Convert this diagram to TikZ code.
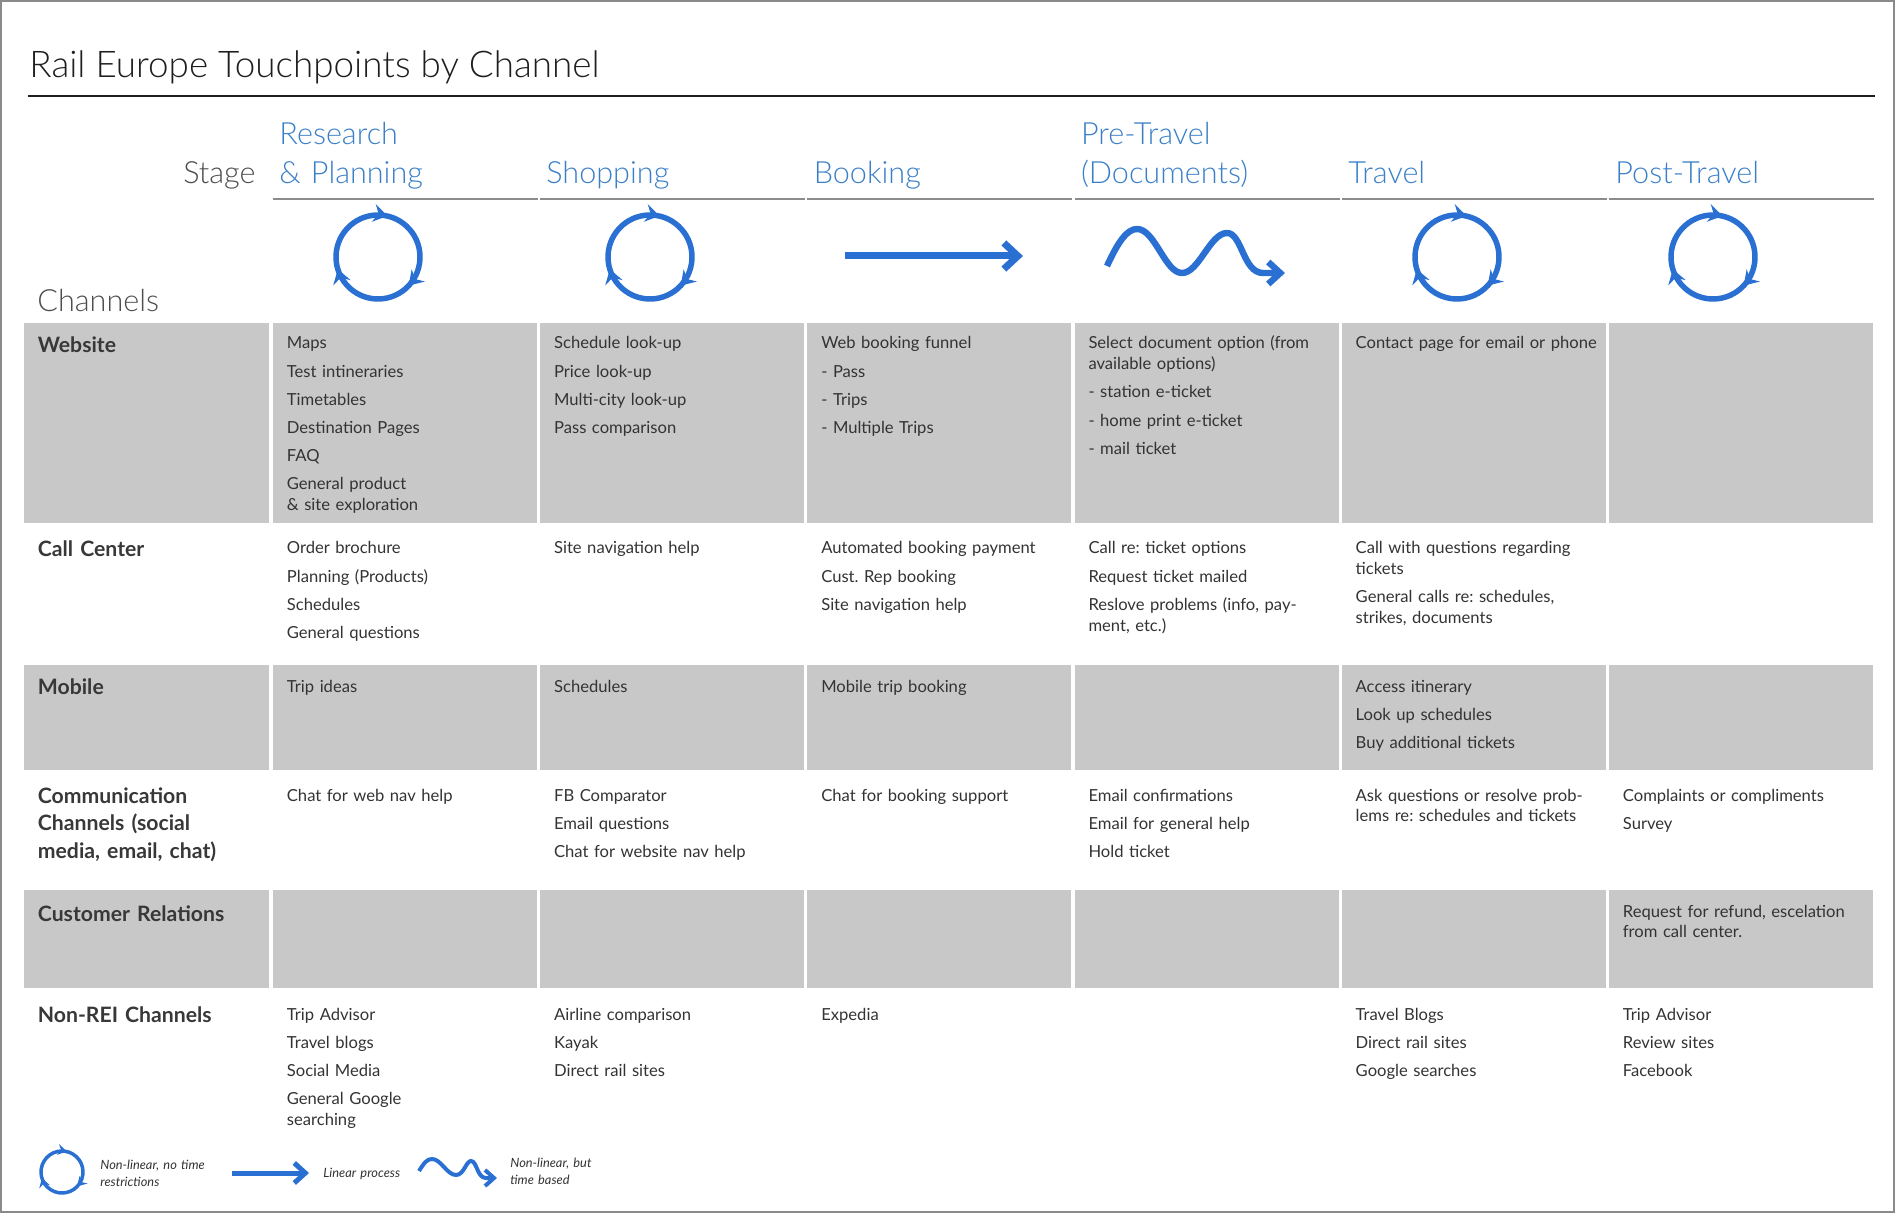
\documentclass[tikz,border=0pt]{standalone}
\usepackage{fontspec}
\setmainfont{Lato}
\newfontfamily\lightfont{Lato Light}
\usetikzlibrary{arrows.meta,decorations.markings}
\frenchspacing
\definecolor{cellgray}{HTML}{C8C8C8}
\definecolor{bodycol}{HTML}{333333}
\definecolor{hdrcol}{HTML}{383838}
\definecolor{stagecol}{HTML}{4D4D4D}
\definecolor{stageblue}{HTML}{3A7FC8}
\definecolor{iconblue}{HTML}{2A6FD2}
\definecolor{rulegray}{HTML}{8C8C8C}
\definecolor{framegray}{HTML}{8A8A8A}
\definecolor{titlecol}{HTML}{1E1E1E}
\newcommand\nxt{\\[3.75pt]}
\newcommand\loopicon[6]{%
  \coordinate (#1) at (#2,#3);
  \draw[draw=iconblue, line width=#5, postaction={decorate},
    decoration={markings,
      mark=at position 0.1667 with {\arrow{#6}},
      mark=at position 0.5 with {\arrow{#6}},
      mark=at position 0.8333 with {\arrow{#6}}}]
    (#1) ++(-137:#4) arc[start angle=-137, end angle=223, radius=#4];
}
\tikzset{
  body/.style={anchor=base west, inner sep=0pt, text width=128pt, align=left,
    font=\fontsize{8.3}{10.35}\selectfont, text=bodycol},
  hdr/.style={anchor=base west, inner sep=0pt, text width=116pt, align=left,
    font=\bfseries\fontsize{10.6}{13.75}\selectfont, text=hdrcol},
  stagehd/.style={anchor=base west, inner sep=0pt, text width=128pt, align=left,
    font=\lightfont\fontsize{15.3}{19.5}\selectfont, text=stageblue},
  biglabel/.style={inner sep=0pt, font=\lightfont\fontsize{15.3}{19.5}\selectfont, text=stagecol},
  legendtxt/.style={anchor=base west, inner sep=0pt, text width=70pt, align=left,
    font=\itshape\fontsize{6.4}{8.5}\selectfont, text=bodycol},
  cellbg/.style={fill=cellgray, draw=none},
  stagerule/.style={draw=rulegray, line width=1pt},
  flowline/.style={draw=iconblue, line width=#1},
}
\begin{document}
\begin{tikzpicture}[x=0.5pt,y=-0.5pt]
\useasboundingbox (0,0) rectangle (1895,1213);
\draw[framegray, line width=1pt] (1,1) rectangle (1894,1212);

% title
\node[anchor=base west, inner sep=0pt, font=\lightfont\fontsize{18.4}{22}\selectfont, text=titlecol] (title) at (29,78) {Rail Europe Touchpoints by Channel};
\draw[titlecol, line width=1.25pt] (28,96) -- (1875,96);

% grey cells
\foreach \top/\bot in {323/523, 665/770, 890/988}{
  \fill[cellbg] (24,\top) rectangle (269,\bot);
  \foreach \k in {0,...,5}{
    \pgfmathsetmacro\cl{273+267.2*\k}
    \fill[cellbg] (\cl,\top) rectangle ({\cl+264},\bot);
  }
}
% stage rules
\foreach \k in {0,...,5}{
  \pgfmathsetmacro\cl{273+267.2*\k}
  \draw[stagerule] (\cl,199) -- ({\cl+265},199);
}

% stage labels
\node[biglabel, anchor=base east] (stage) at (256,184) {Stage};
\node[biglabel, anchor=base west] (channels) at (37,312) {Channels};
\node[stagehd] (s1) at (279,145) {Research\\\& Planning};
\node[stagehd] (s2) at (546,184) {Shopping};
\node[stagehd] (s3) at (813.4,184) {Booking};
\node[stagehd] (s4) at (1080.6,145) {Pre-Travel\\(Documents)};
\node[stagehd] (s5) at (1348,184) {Travel};
\node[stagehd] (s6) at (1615,184) {Post-Travel};

% icons
\loopicon{i1}{378}{257}{42}{2.75pt}{Stealth[length=7pt,width=9pt,inset=2.5pt]}
\loopicon{i2}{650}{257}{42}{2.75pt}{Stealth[length=7pt,width=9pt,inset=2.5pt]}
\loopicon{i5}{1457}{257}{42}{2.75pt}{Stealth[length=7pt,width=9pt,inset=2.5pt]}
\loopicon{i6}{1713}{257}{42}{2.75pt}{Stealth[length=7pt,width=9pt,inset=2.5pt]}
\coordinate (bkA) at (845,256);
\coordinate (bkB) at (1023,256);
\draw[flowline=3.5pt, -{Straight Barb[length=7pt,width=13pt]}] (bkA) -- (bkB);
\coordinate (wvA) at (1107,266);
\coordinate (wvB) at (1285,273);
\draw[flowline=3.2pt, -{Straight Barb[length=6pt,width=11pt]}] (wvA)
  .. controls (1118,242) and (1127,229) .. (1137,229)
  .. controls (1155,229) and (1165,273) .. (1182,273)
  .. controls (1199,273) and (1210,233) .. (1227,233)
  .. controls (1242,233) and (1243,273) .. (1263,273) -- (wvB);

% row headers
\node[hdr] (hw) at (37.5,353) {Website};
\node[hdr] (hc) at (37.5,557) {Call Center};
\node[hdr] (hm) at (37.5,694) {Mobile};
\node[hdr] (hk) at (37.5,803) {Communication\\Channels (social\\media, email, chat)};
\node[hdr] (hr) at (37.5,921) {Customer Relations};
\node[hdr] (hn) at (37.5,1022) {Non-REI Channels};

% website
\node[body] (w1) at (286.5,349) {Maps\nxt Test intineraries\nxt Timetables\nxt Destination Pages\nxt FAQ\nxt General product\\\& site exploration};
\node[body] (w2) at (553.7,349) {Schedule look-up\nxt Price look-up\nxt Multi-city look-up\nxt Pass comparison};
\node[body] (w3) at (820.9,349) {Web booking funnel\nxt - Pass\nxt - Trips\nxt - Multiple Trips};
\node[body] (w4) at (1088.1,349) {Select document option (from\\available options)\nxt - station e-ticket\nxt - home print e-ticket\nxt - mail ticket};
\node[body] (w5) at (1355.3,349) {Contact page for email or phone};

% call center
\node[body] (c1) at (286.5,554) {Order brochure\nxt Planning (Products)\nxt Schedules\nxt General questions};
\node[body] (c2) at (553.7,554) {Site navigation help};
\node[body] (c3) at (820.9,554) {Automated booking payment\nxt Cust. Rep booking\nxt Site navigation help};
\node[body] (c4) at (1088.1,554) {Call re: ticket options\nxt Request ticket mailed\nxt Reslove problems (info, pay-\\ment, etc.)};
\node[body] (c5) at (1355.3,554) {Call with questions regarding\\tickets\nxt General calls re: schedules,\\strikes, documents};

% mobile
\node[body] (m1) at (286.5,692) {Trip ideas};
\node[body] (m2) at (553.7,692) {Schedules};
\node[body] (m3) at (820.9,692) {Mobile trip booking};
\node[body] (m5) at (1355.3,692) {Access itinerary\nxt Look up schedules\nxt Buy additional tickets};

% communication
\node[body] (k1) at (286.5,801) {Chat for web nav help};
\node[body] (k2) at (553.7,801) {FB Comparator\nxt Email questions\nxt Chat for website nav help};
\node[body] (k3) at (820.9,801) {Chat for booking support};
\node[body] (k4) at (1088.1,801) {Email confirmations\nxt Email for general help\nxt Hold ticket};
\node[body] (k5) at (1355.3,801) {Ask questions or resolve prob-\\lems re: schedules and tickets};
\node[body] (k6) at (1622.5,801) {Complaints or compliments\nxt Survey};

% customer relations
\node[body] (r6) at (1622.5,917) {Request for refund, escelation\\from call center.};

% non-REI
\node[body] (n1) at (286.5,1020) {Trip Advisor\nxt Travel blogs\nxt Social Media\nxt General Google\\searching};
\node[body] (n2) at (553.7,1020) {Airline comparison\nxt Kayak\nxt Direct rail sites};
\node[body] (n3) at (820.9,1020) {Expedia};
\node[body] (n5) at (1355.3,1020) {Travel Blogs\nxt Direct rail sites\nxt Google searches};
\node[body] (n6) at (1622.5,1020) {Trip Advisor\nxt Review sites\nxt Facebook};

% legend
\loopicon{lg1}{62}{1172}{21}{1.75pt}{Stealth[length=4.5pt,width=5.5pt,inset=1.6pt]}
\node[legendtxt] (lt1) at (100,1169) {Non-linear, no time\\restrictions};
\coordinate (lgA) at (232,1173);
\coordinate (lgB) at (309,1173);
\draw[flowline=2.5pt, -{Straight Barb[length=5.5pt,width=10pt]}] (lgA) -- (lgB);
\node[legendtxt] (lt2) at (323,1177) {Linear process};
\coordinate (lwA) at (419,1171);
\coordinate (lwB) at (497,1178);
\draw[flowline=2pt, -{Straight Barb[length=4.5pt,width=8pt]}] (lwA)
  .. controls (424,1163) and (427,1159) .. (432,1159)
  .. controls (441,1159) and (447,1175) .. (456,1175)
  .. controls (464,1175) and (466,1161) .. (471,1161)
  .. controls (477,1161) and (477,1178) .. (486,1178) -- (lwB);
\node[legendtxt] (lt3) at (510,1167) {Non-linear, but\\time based};
\end{tikzpicture}
\end{document}
